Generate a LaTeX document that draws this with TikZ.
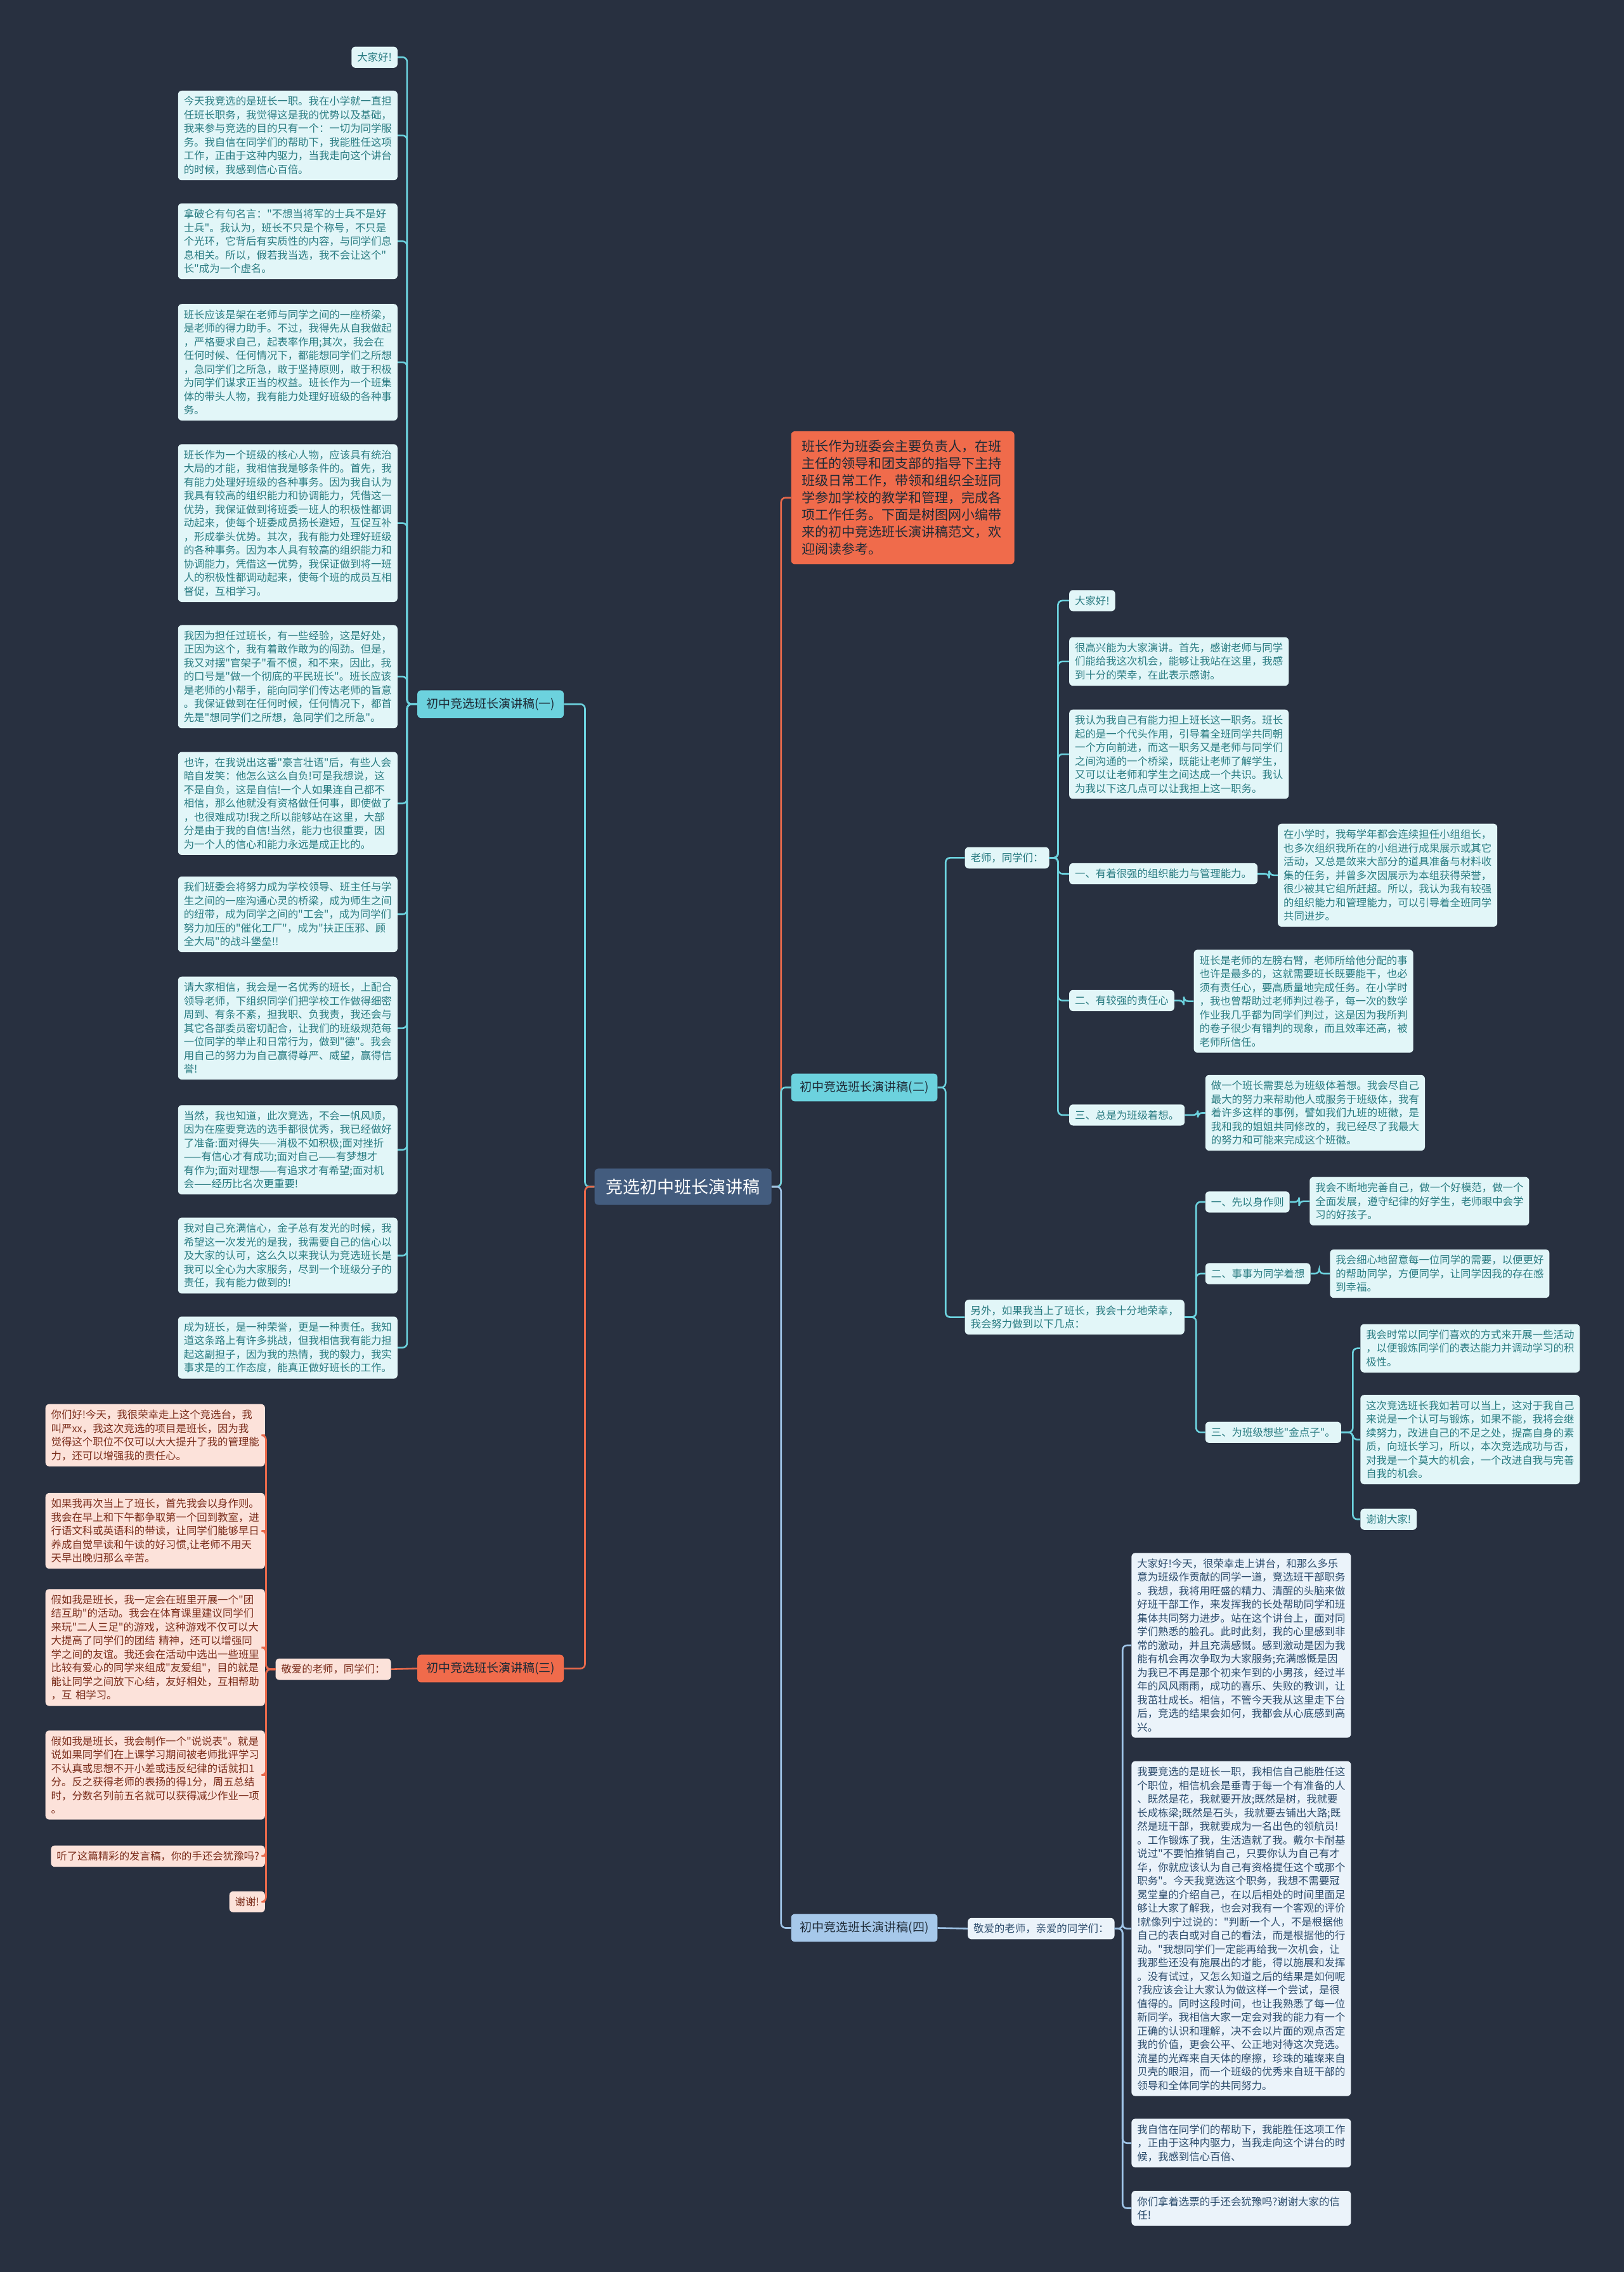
\documentclass[tikz,border=0pt]{standalone}
\usepackage{fontspec}
\newfontfamily\cnfont{Noto Sans CJK SC}
\definecolor{bgdark}{HTML}{283040}
\definecolor{cyanline}{HTML}{6CD2DE}
\definecolor{cyanleaf}{HTML}{E2F6F8}
\definecolor{cyantext}{HTML}{2A7C82}
\definecolor{orangeline}{HTML}{E8694B}
\definecolor{orangefill}{HTML}{F06B4B}
\definecolor{orangeleaf}{HTML}{FCE2DA}
\definecolor{orangetext}{HTML}{7A2C1A}
\definecolor{blueline}{HTML}{9EC3E6}
\definecolor{bluefill}{HTML}{A6C8EA}
\definecolor{blueleaf}{HTML}{EBF3FA}
\definecolor{bluetext}{HTML}{2D4D6D}
\definecolor{rootfill}{HTML}{435C7E}
\definecolor{headtext}{HTML}{1E2A36}
\newcommand\leaffont{\cnfont\fontsize{16.4}{21.5}\selectfont}
\newcommand\headfont{\cnfont\fontsize{19}{23}\selectfont}
\newcommand\introfont{\cnfont\fontsize{21}{27}\selectfont}
\newcommand\rootfont{\cnfont\fontsize{27}{30}\selectfont}

\begin{document}
\begin{tikzpicture}[x=2.2836pt, y=-2.2836pt,
    box/.style={rounded corners=6pt, inner xsep=9pt, inner ysep=9pt, font=\leaffont},
    para/.style={text width=328pt, align=left},
    cyanleafbox/.style={box, fill=cyanleaf, text=cyantext},
    orangeleafbox/.style={box, fill=orangeleaf, text=orangetext},
    blueleafbox/.style={box, fill=blueleaf, text=bluetext},
    headbox/.style={rounded corners=6pt, inner xsep=14pt, inner ysep=12pt, font=\headfont, text=headtext},
    cyanlink/.style={draw=cyanline, line width=2.6pt, rounded corners=7pt},
    orangelink/.style={draw=orangeline, line width=2.6pt, rounded corners=7pt},
    bluelink/.style={draw=blueline, line width=2.6pt, rounded corners=7pt}]
    \useasboundingbox (0,0) rectangle (1121,1568);
    \fill[bgdark] (0,0) rectangle (1121,1568);

    % 中心
    \node[rounded corners=6pt, fill=rootfill, text=white, font=\rootfont, inner xsep=18pt, inner ysep=16pt] (root) at (471.5,819) {竞选初中班长演讲稿};
    \node[rounded corners=6pt, fill=orangefill, text=headtext, font=\introfont, inner xsep=17pt, inner ysep=14pt, text width=318pt, align=left, anchor=west] (intro) at (546,343.5)
        {班长作为班委会主要负责人，在班\\主任的领导和团支部的指导下主持\\班级日常工作，带领和组织全班同\\学参加学校的教学和管理，完成各\\项工作任务。下面是树图网小编带\\来的初中竞选班长演讲稿范文，欢\\迎阅读参考。};
    \node[headbox, fill=cyanline, anchor=west] (b1) at (288,486) {初中竞选班长演讲稿(一)};
    \node[headbox, fill=cyanline, anchor=west] (b2) at (546,750.5) {初中竞选班长演讲稿(二)};
    \node[headbox, fill=orangefill, anchor=west] (b3) at (288,1151.5) {初中竞选班长演讲稿(三)};
    \node[headbox, fill=bluefill, anchor=west] (b4) at (546,1330.5) {初中竞选班长演讲稿(四)};

    % 第一篇
    \node[cyanleafbox, anchor=east] (c1a) at (274.5,39.5) {大家好!};
    \node[cyanleafbox, para, anchor=east] (c1b) at (274.5,93.5)
        {今天我竞选的是班长一职。我在小学就一直担\\任班长职务，我觉得这是我的优势以及基础，\\我来参与竞选的目的只有一个：一切为同学服\\务。我自信在同学们的帮助下，我能胜任这项\\工作，正由于这种内驱力，当我走向这个讲台\\的时候，我感到信心百倍。};
    \node[cyanleafbox, para, anchor=east] (c1c) at (274.5,166.5)
        {拿破仑有句名言："不想当将军的士兵不是好\\士兵"。我认为，班长不只是个称号，不只是\\个光环，它背后有实质性的内容，与同学们息\\息相关。所以，假若我当选，我不会让这个"\\长"成为一个虚名。};
    \node[cyanleafbox, para, anchor=east] (c1d) at (274.5,250)
        {班长应该是架在老师与同学之间的一座桥梁，\\是老师的得力助手。不过，我得先从自我做起\\，严格要求自己，起表率作用;其次，我会在\\任何时候、任何情况下，都能想同学们之所想\\，急同学们之所急，敢于坚持原则，敢于积极\\为同学们谋求正当的权益。班长作为一个班集\\体的带头人物，我有能力处理好班级的各种事\\务。};
    \node[cyanleafbox, para, anchor=east] (c1e) at (274.5,361)
        {班长作为一个班级的核心人物，应该具有统治\\大局的才能，我相信我是够条件的。首先，我\\有能力处理好班级的各种事务。因为我自认为\\我具有较高的组织能力和协调能力，凭借这一\\优势，我保证做到将班委一班人的积极性都调\\动起来，使每个班委成员扬长避短，互促互补\\，形成拳头优势。其次，我有能力处理好班级\\的各种事务。因为本人具有较高的组织能力和\\协调能力，凭借这一优势，我保证做到将一班\\人的积极性都调动起来，使每个班的成员互相\\督促，互相学习。};
    \node[cyanleafbox, para, anchor=east] (c1f) at (274.5,467)
        {我因为担任过班长，有一些经验，这是好处，\\正因为这个，我有着敢作敢为的闯劲。但是，\\我又对摆"官架子"看不惯，和不来，因此，我\\的口号是"做一个彻底的平民班长"。班长应该\\是老师的小帮手，能向同学们传达老师的旨意\\。我保证做到在任何时候，任何情况下，都首\\先是"想同学们之所想，急同学们之所急"。};
    \node[cyanleafbox, para, anchor=east] (c1g) at (274.5,554.5)
        {也许，在我说出这番"豪言壮语"后，有些人会\\暗自发笑：他怎么这么自负!可是我想说，这\\不是自负，这是自信!一个人如果连自己都不\\相信，那么他就没有资格做任何事，即使做了\\，也很难成功!我之所以能够站在这里，大部\\分是由于我的自信!当然，能力也很重要，因\\为一个人的信心和能力永远是成正比的。};
    \node[cyanleafbox, para, anchor=east] (c1h) at (274.5,631)
        {我们班委会将努力成为学校领导、班主任与学\\生之间的一座沟通心灵的桥梁，成为师生之间\\的纽带，成为同学之间的"工会"，成为同学们\\努力加压的"催化工厂"，成为"扶正压邪、顾\\全大局"的战斗堡垒!!};
    \node[cyanleafbox, para, anchor=east] (c1i) at (274.5,709.5)
        {请大家相信，我会是一名优秀的班长，上配合\\领导老师，下组织同学们把学校工作做得细密\\周到、有条不紊，担我职、负我责，我还会与\\其它各部委员密切配合，让我们的班级规范每\\一位同学的举止和日常行为，做到"德"。我会\\用自己的努力为自己赢得尊严、威望，赢得信\\誉!};
    \node[cyanleafbox, para, anchor=east] (c1j) at (274.5,793.5)
        {当然，我也知道，此次竞选，不会一帆风顺，\\因为在座要竞选的选手都很优秀，我已经做好\\了准备:面对得失——消极不如积极;面对挫折\\——有信心才有成功;面对自己——有梦想才\\有作为;面对理想——有追求才有希望;面对机\\会——经历比名次更重要!};
    \node[cyanleafbox, para, anchor=east] (c1k) at (274.5,866.5)
        {我对自己充满信心，金子总有发光的时候，我\\希望这一次发光的是我，我需要自己的信心以\\及大家的认可，这么久以来我认为竞选班长是\\我可以全心为大家服务，尽到一个班级分子的\\责任，我有能力做到的!};
    \node[cyanleafbox, para, anchor=east] (c1l) at (274.5,930)
        {成为班长，是一种荣誉，更是一种责任。我知\\道这条路上有许多挑战，但我相信我有能力担\\起这副担子，因为我的热情，我的毅力，我实\\事求是的工作态度，能真正做好班长的工作。};

    % 第二篇
    \node[cyanleafbox, anchor=west] (b2a) at (666,592) {老师，同学们：};
    \node[cyanleafbox, para, anchor=west] (b2b) at (666,909)
        {另外，如果我当上了班长，我会十分地荣幸，\\我会努力做到以下几点：};
    \node[cyanleafbox, anchor=west] (d1) at (738,414.5) {大家好!};
    \node[cyanleafbox, para, anchor=west] (d2) at (738,456.5)
        {很高兴能为大家演讲。首先，感谢老师与同学\\们能给我这次机会，能够让我站在这里，我感\\到十分的荣幸，在此表示感谢。};
    \node[cyanleafbox, para, anchor=west] (d3) at (738,520.5)
        {我认为我自己有能力担上班长这一职务。班长\\起的是一个代头作用，引导着全班同学共同朝\\一个方向前进，而这一职务又是老师与同学们\\之间沟通的一个桥梁，既能让老师了解学生，\\又可以让老师和学生之间达成一个共识。我认\\为我以下这几点可以让我担上这一职务。};
    \node[cyanleafbox, anchor=west] (d4) at (738,603) {一、有着很强的组织能力与管理能力。};
    \node[cyanleafbox, anchor=west] (d5) at (738,690.5) {二、有较强的责任心};
    \node[cyanleafbox, anchor=west] (d6) at (738,769.5) {三、总是为班级着想。};
    \node[cyanleafbox, para, anchor=west] (e4) at (882,604)
        {在小学时，我每学年都会连续担任小组组长，\\也多次组织我所在的小组进行成果展示或其它\\活动，又总是敛来大部分的道具准备与材料收\\集的任务，并曾多次因展示为本组获得荣誉，\\很少被其它组所赶超。所以，我认为我有较强\\的组织能力和管理能力，可以引导着全班同学\\共同进步。};
    \node[cyanleafbox, para, anchor=west] (e5) at (824,691)
        {班长是老师的左膀右臂，老师所给他分配的事\\也许是最多的，这就需要班长既要能干，也必\\须有责任心，要高质量地完成任务。在小学时\\，我也曾帮助过老师判过卷子，每一次的数学\\作业我几乎都为同学们判过，这是因为我所判\\的卷子很少有错判的现象，而且效率还高，被\\老师所信任。};
    \node[cyanleafbox, para, anchor=west] (e6) at (832,768)
        {做一个班长需要总为班级体着想。我会尽自己\\最大的努力来帮助他人或服务于班级体，我有\\着许多这样的事例，譬如我们九班的班徽，是\\我和我的姐姐共同修改的，我已经尽了我最大\\的努力和可能来完成这个班徽。};
    \node[cyanleafbox, anchor=west] (f1) at (832,829.5) {一、先以身作则};
    \node[cyanleafbox, anchor=west] (f2) at (832,879) {二、事事为同学着想};
    \node[cyanleafbox, anchor=west] (f3) at (832,988.5) {三、为班级想些"金点子"。};
    \node[cyanleafbox, para, anchor=west] (g1) at (904,829)
        {我会不断地完善自己，做一个好模范，做一个\\全面发展，遵守纪律的好学生，老师眼中会学\\习的好孩子。};
    \node[cyanleafbox, para, anchor=west] (g2) at (918,879)
        {我会细心地留意每一位同学的需要，以便更好\\的帮助同学，方便同学，让同学因我的存在感\\到幸福。};
    \node[cyanleafbox, para, anchor=west] (h1) at (939,930.5)
        {我会时常以同学们喜欢的方式来开展一些活动\\，以便锻炼同学们的表达能力并调动学习的积\\极性。};
    \node[cyanleafbox, para, anchor=west] (h2) at (939,993.5)
        {这次竞选班长我如若可以当上，这对于我自己\\来说是一个认可与锻炼，如果不能，我将会继\\续努力，改进自己的不足之处，提高自身的素\\质，向班长学习，所以，本次竞选成功与否，\\对我是一个莫大的机会，一个改进自我与完善\\自我的机会。};
    \node[cyanleafbox, anchor=west] (h3) at (939,1048.5) {谢谢大家!};

    % 第三篇
    \node[orangeleafbox, anchor=east] (b3a) at (270,1152) {敬爱的老师，同学们：};
    \node[orangeleafbox, para, anchor=east] (c3a) at (183,990.5)
        {你们好!今天，我很荣幸走上这个竞选台，我\\叫严xx，我这次竞选的项目是班长，因为我\\觉得这个职位不仅可以大大提升了我的管理能\\力，还可以增强我的责任心。};
    \node[orangeleafbox, para, anchor=east] (c3b) at (183,1056.5)
        {如果我再次当上了班长，首先我会以身作则。\\我会在早上和下午都争取第一个回到教室，进\\行语文科或英语科的带读，让同学们能够早日\\养成自觉早读和午读的好习惯,让老师不用天\\天早出晚归那么辛苦。};
    \node[orangeleafbox, para, anchor=east] (c3c) at (183,1137)
        {假如我是班长，我一定会在班里开展一个"团\\结互助"的活动。我会在体育课里建议同学们\\来玩"二人三足"的游戏，这种游戏不仅可以大\\大提高了同学们的团结 精神，还可以增强同\\学之间的友谊。我还会在活动中选出一些班里\\比较有爱心的同学来组成"友爱组"，目的就是\\能让同学之间放下心结，友好相处，互相帮助\\，互 相学习。};
    \node[orangeleafbox, para, anchor=east] (c3d) at (183,1225)
        {假如我是班长，我会制作一个"说说表"。就是\\说如果同学们在上课学习期间被老师批评学习\\不认真或思想不开小差或违反纪律的话就扣1\\分。反之获得老师的表扬的得1分，周五总结\\时，分数名列前五名就可以获得减少作业一项\\。};
    \node[orangeleafbox, anchor=east] (c3e) at (183,1281) {听了这篇精彩的发言稿，你的手还会犹豫吗?};
    \node[orangeleafbox, anchor=east] (c3f) at (183,1312.5) {谢谢!};

    % 第四篇
    \node[blueleafbox, anchor=west] (b4a) at (668,1331) {敬爱的老师，亲爱的同学们：};
    \node[blueleafbox, para, anchor=west] (k1) at (781,1135.5)
        {大家好!今天，很荣幸走上讲台，和那么多乐\\意为班级作贡献的同学一道，竞选班干部职务\\。我想，我将用旺盛的精力、清醒的头脑来做\\好班干部工作，来发挥我的长处帮助同学和班\\集体共同努力进步。站在这个讲台上，面对同\\学们熟悉的脸孔。此时此刻，我的心里感到非\\常的激动，并且充满感慨。感到激动是因为我\\能有机会再次争取为大家服务;充满感慨是因\\为我已不再是那个初来乍到的小男孩，经过半\\年的风风雨雨，成功的喜乐、失败的教训，让\\我茁壮成长。相信，不管今天我从这里走下台\\后，竞选的结果会如何，我都会从心底感到高\\兴。};
    \node[blueleafbox, para, anchor=west] (k2) at (781,1331)
        {我要竞选的是班长一职，我相信自己能胜任这\\个职位，相信机会是垂青于每一个有准备的人\\、既然是花，我就要开放;既然是树，我就要\\长成栋梁;既然是石头，我就要去铺出大路;既\\然是班干部，我就要成为一名出色的领航员!\\。工作锻炼了我，生活造就了我。戴尔卡耐基\\说过"不要怕推销自己，只要你认为自己有才\\华，你就应该认为自己有资格提任这个或那个\\职务"。今天我竞选这个职务，我想不需要冠\\冕堂皇的介绍自己，在以后相处的时间里面足\\够让大家了解我，也会对我有一个客观的评价\\!就像列宁过说的："判断一个人，不是根据他\\自己的表白或对自己的看法，而是根据他的行\\动。"我想同学们一定能再给我一次机会，让\\我那些还没有施展出的才能，得以施展和发挥\\。没有试过，又怎么知道之后的结果是如何呢\\?我应该会让大家认为做这样一个尝试，是很\\值得的。同时这段时间，也让我熟悉了每一位\\新同学。我相信大家一定会对我的能力有一个\\正确的认识和理解，决不会以片面的观点否定\\我的价值，更会公平、公正地对待这次竞选。\\流星的光辉来自天体的摩擦，珍珠的璀璨来自\\贝壳的眼泪，而一个班级的优秀来自班干部的\\领导和全体同学的共同努力。};
    \node[blueleafbox, para, anchor=west] (k3) at (781,1479)
        {我自信在同学们的帮助下，我能胜任这项工作\\，正由于这种内驱力，当我走向这个讲台的时\\候，我感到信心百倍、};
    \node[blueleafbox, para, anchor=west] (k4) at (781,1524)
        {你们拿着选票的手还会犹豫吗?谢谢大家的信\\任!};

    % 连线
    \draw[cyanlink] (root.west) -- ++(-6.5,0) |- (b1.east);
    \draw[orangelink] (root.west) -- ++(-6.5,0) |- (b3.east);
    \draw[orangelink] (root.east) -- ++(6.5,0) |- (intro.west);
    \draw[cyanlink] (root.east) -- ++(6.5,0) |- (b2.west);
    \draw[bluelink] (root.east) -- ++(6.5,0) |- (b4.west);
    \foreach \c in {c1a,c1b,c1c,c1d,c1e,c1f,c1g,c1h,c1i,c1j,c1k,c1l}
        \draw[cyanlink] (b1.west) -- ++(-7,0) |- (\c.east);
    \foreach \c in {b2a,b2b}
        \draw[cyanlink] (b2.east) -- ++(5.5,0) |- (\c.west);
    \foreach \c in {d1,d2,d3,d4,d5,d6}
        \draw[cyanlink] (b2a.east) -- ++(6,0) |- (\c.west);
    \draw[cyanlink] (d4.east) -- ++(8,0) |- (e4.west);
    \draw[cyanlink] (d5.east) -- ++(6.5,0) |- (e5.west);
    \draw[cyanlink] (d6.east) -- ++(9,0) |- (e6.west);
    \foreach \c in {f1,f2,f3}
        \draw[cyanlink] (b2b.east) -- ++(8,0) |- (\c.west);
    \draw[cyanlink] (f1.east) -- ++(6.5,0) |- (g1.west);
    \draw[cyanlink] (f2.east) -- ++(6,0) |- (g2.west);
    \foreach \c in {h1,h2,h3}
        \draw[cyanlink] (f3.east) -- ++(8,0) |- (\c.west);
    \draw[orangelink] (b3.west) -- (b3a.east);
    \foreach \c in {c3a,c3b,c3c,c3d,c3e,c3f}
        \draw[orangelink] (b3a.west) -- ++(-6.5,0) |- (\c.east);
    \draw[bluelink] (b4.east) -- (b4a.west);
    \foreach \c in {k1,k2,k3,k4}
        \draw[bluelink] (b4a.east) -- ++(5.5,0) |- (\c.west);
\end{tikzpicture}
\end{document}
